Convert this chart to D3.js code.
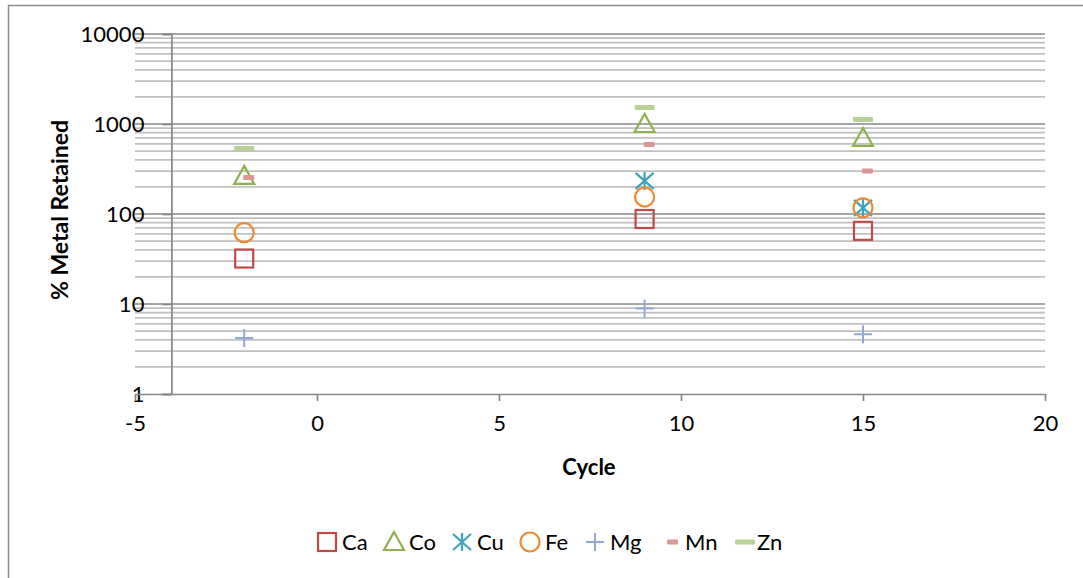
<!DOCTYPE html>
<html>
<head>
<meta charset="utf-8">
<script src="https://cdn.jsdelivr.net/npm/d3@7"></script>
<style>
  html, body { margin: 0; padding: 0; background: #fff; }
  svg { display: block; font-family: Lato, "Open Sans", sans-serif; }
</style>
</head>
<body>
<svg id="chart" width="1083" height="578"></svg>
<script>
// Retention of metals across cycles (log scale)
const cycles = [-2, 9, 15];
const seriesNames = ["Ca", "Co", "Cu", "Fe", "Mg", "Mn", "Zn"];
const caValues = [32, 88, 65];
const coValues = [265, 1000, 700];
const cuValues = [null, 233, 117];
const feValues = [62, 154, 117];
const mgValues = [4.2, 8.9, 4.6];
const mnValues = [255, 590, 300];
const znValues = [535, 1525, 1120];
const xTickValues = [-5, 0, 5, 10, 15, 20];
const yTickValues = [1, 10, 100, 1000, 10000];

const valuesBySeries = {
  Ca: caValues, Co: coValues, Cu: cuValues, Fe: feValues,
  Mg: mgValues, Mn: mnValues, Zn: znValues
};
const colors = {
  Ca: "#BE4B48", Co: "#8FB04E", Cu: "#3FA2BE", Fe: "#EE8A36",
  Mg: "#8EA9D6", Mn: "#D99694", Zn: "#B8D196"
};

const svg = d3.select("#chart");

// outer chart frame
svg.append("rect")
  .attr("x", 8.5).attr("y", 5.5)
  .attr("width", 1100).attr("height", 600)
  .attr("fill", "none").attr("stroke", "#8c8c8c").attr("stroke-width", 1.5);

const x = d3.scaleLinear().domain([-5, 20]).range([135, 1045]);
const y = d3.scaleLog().domain([1, 10000]).range([394, 34]);

// gridlines: minor (2..9 within each decade) then major
const minorVals = [];
for (let d = 0; d < 4; d++) {
  for (let m = 2; m <= 9; m++) minorVals.push(m * Math.pow(10, d));
}
const grid = svg.append("g");
grid.selectAll("line.minor").data(minorVals).join("line")
  .attr("class", "minor")
  .attr("x1", x(-5)).attr("x2", x(20))
  .attr("y1", d => y(d)).attr("y2", d => y(d))
  .attr("stroke", "#c0c0c0").attr("stroke-width", 1.7);
grid.selectAll("line.major").data(yTickValues.slice(1)).join("line")
  .attr("class", "major")
  .attr("x1", x(-5)).attr("x2", x(20))
  .attr("y1", d => y(d)).attr("y2", d => y(d))
  .attr("stroke", "#878787").attr("stroke-width", 1.7);

// y axis crosses at cycle -4
const yAxis = d3.axisLeft(y)
  .tickValues(yTickValues)
  .tickFormat(d => String(d))
  .tickSize(9)
  .tickPadding(18);
const gy = svg.append("g")
  .attr("transform", `translate(${x(-4)},0)`)
  .call(yAxis);
gy.select(".domain").attr("stroke", "#878787").attr("stroke-width", 1.7);
gy.selectAll(".tick line").attr("stroke", "#878787").attr("stroke-width", 1.7);
gy.selectAll(".tick text")
  .attr("font-size", 22).attr("fill", "#000")
  .attr("font-family", "Lato, 'Open Sans', sans-serif");

// x axis at value 1
const xAxis = d3.axisBottom(x)
  .tickValues(xTickValues)
  .tickFormat(d => String(d))
  .tickSize(7)
  .tickSizeOuter(0)
  .tickPadding(14);
const gx = svg.append("g")
  .attr("transform", `translate(0,${y(1)})`)
  .call(xAxis);
gx.select(".domain").attr("stroke", "#878787").attr("stroke-width", 1.7);
gx.selectAll(".tick line").attr("stroke", "#878787").attr("stroke-width", 1.7);
gx.selectAll(".tick text")
  .attr("font-size", 22).attr("fill", "#000")
  .attr("font-family", "Lato, 'Open Sans', sans-serif");

// axis titles
svg.append("text")
  .attr("x", 589).attr("y", 475)
  .attr("text-anchor", "middle")
  .attr("font-size", 22).attr("font-weight", "bold")
  .text("Cycle");
svg.append("text")
  .attr("transform", "translate(68,210) rotate(-90)")
  .attr("text-anchor", "middle")
  .attr("font-size", 23).attr("font-weight", "bold")
  .text("% Metal Retained");

// marker drawing per series
function drawMarker(g, name) {
  const c = colors[name];
  switch (name) {
    case "Ca":
      g.append("rect").attr("x", -9).attr("y", -9).attr("width", 18).attr("height", 18)
        .attr("fill", "none").attr("stroke", c).attr("stroke-width", 2.2);
      break;
    case "Co":
      g.append("path").attr("d", "M0,-10 L10,8 L-10,8 Z")
        .attr("fill", "none").attr("stroke", c).attr("stroke-width", 2.2)
        .attr("stroke-linejoin", "miter");
      break;
    case "Cu":
      g.append("path").attr("d", "M0,-9 V9 M-9,-8 L9,8 M-9,8 L9,-8")
        .attr("fill", "none").attr("stroke", c).attr("stroke-width", 2.2);
      break;
    case "Fe":
      g.append("circle").attr("r", 9.5)
        .attr("fill", "none").attr("stroke", c).attr("stroke-width", 2.2);
      break;
    case "Mg":
      g.append("path").attr("d", "M0,-9 V9 M-9,0 H9")
        .attr("fill", "none").attr("stroke", c).attr("stroke-width", 2);
      break;
    case "Mn":
      g.append("rect").attr("x", -1).attr("y", -2.5).attr("width", 11).attr("height", 5)
        .attr("rx", 1).attr("fill", c);
      break;
    case "Zn":
      g.append("rect").attr("x", -10).attr("y", -2.5).attr("width", 20).attr("height", 5)
        .attr("rx", 1).attr("fill", c);
      break;
  }
}

// data points
const plot = svg.append("g");
seriesNames.forEach(name => {
  const vals = valuesBySeries[name];
  cycles.forEach((cy, i) => {
    const v = vals[i];
    if (v == null) return;
    const g = plot.append("g").attr("transform", `translate(${x(cy)},${y(v)})`);
    drawMarker(g, name);
  });
});

// legend
const legendX = [327, 394, 462, 530, 595, 669, 745];
const legend = svg.append("g");
seriesNames.forEach((name, i) => {
  const g = legend.append("g").attr("transform", `translate(${legendX[i]},542)`);
  const m = g.append("g");
  if (name === "Mn") m.attr("transform", "translate(-1,0)");
  drawMarker(m, name);
  g.append("text")
    .attr("x", name === "Mn" ? 16 : (name === "Zn" ? 12 : 15))
    .attr("y", 8)
    .attr("font-size", 22).attr("fill", "#000")
    .text(name);
});
</script>
</body>
</html>
